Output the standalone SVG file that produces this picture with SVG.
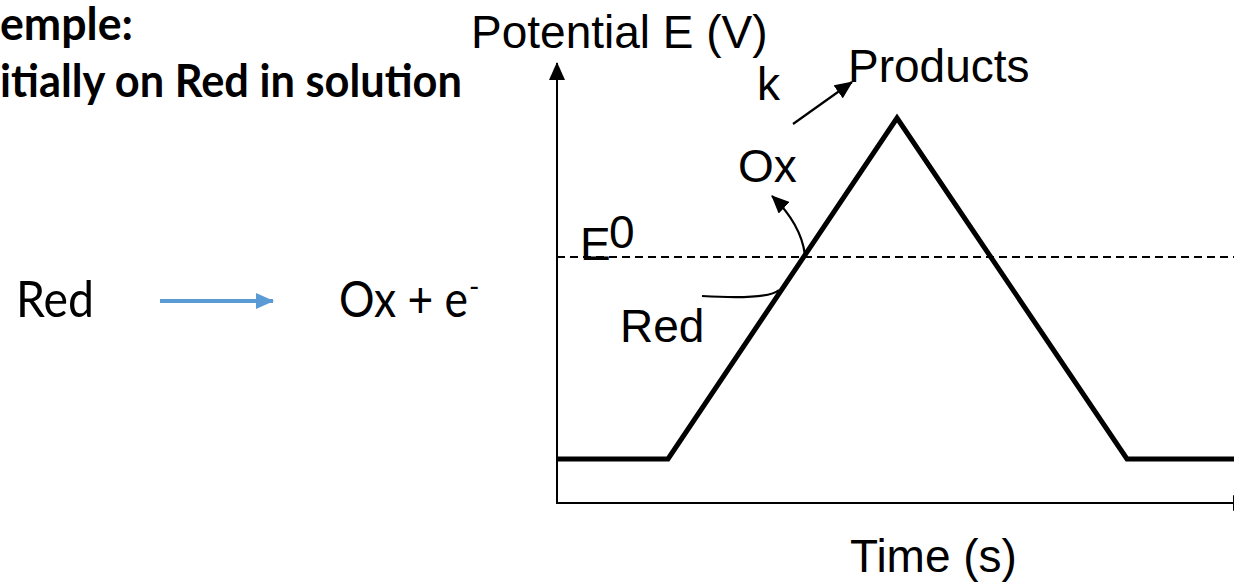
<svg xmlns="http://www.w3.org/2000/svg" width="1234" height="585" viewBox="0 0 1234 585">
<style>
.t{font-family:"Liberation Sans",Arial,sans-serif;font-size:46px;fill:#000}
.c{font-family:Lato,"Open Sans",sans-serif;fill:#000}
.b{font-weight:bold;font-size:46px}
.ax{stroke:#000;stroke-width:2;fill:none}
.ar{stroke:#000;stroke-width:2.2;fill:none}
</style>
<defs>
<marker id="ahb" markerWidth="18" markerHeight="16" refX="17" refY="8" orient="auto" markerUnits="userSpaceOnUse" viewBox="0 0 18 16">
<path d="M0,0 L18,8 L0,16 Z" fill="#000"/>
</marker>
<marker id="blue" markerWidth="18" markerHeight="16" refX="17" refY="8" orient="auto" markerUnits="userSpaceOnUse" viewBox="0 0 18 16">
<path d="M0,0 L18,8 L0,16 Z" fill="#5b9bd5"/>
</marker>
</defs>
<rect width="1234" height="585" fill="#fff"/>
<g id="title">
<text class="c b" x="0" y="40" textLength="133" lengthAdjust="spacingAndGlyphs">emple:</text>
<text class="c b" x="0" y="97" textLength="462" lengthAdjust="spacingAndGlyphs">itially on Red in solution</text>
</g>
<g id="reaction">
<text class="c" x="16" y="317" font-size="50" textLength="78" lengthAdjust="spacingAndGlyphs">Red</text>
<text class="c" x="339" y="317" font-size="50"><tspan textLength="129" lengthAdjust="spacingAndGlyphs">Ox + e</tspan><tspan dx="1" dy="-20" font-size="28">-</tspan></text>
</g>
<g id="connectors">
<line x1="160" y1="301" x2="273" y2="301" stroke="#5b9bd5" stroke-width="4" marker-end="url(#blue)"/>
<line class="ax" x1="557" y1="503" x2="557" y2="63" marker-end="url(#ahb)"/>
<line class="ax" x1="556" y1="503" x2="1250" y2="503" marker-end="url(#ahb)"/>
<line class="ar" x1="793" y1="124" x2="852" y2="82" marker-end="url(#ahb)"/>
<path class="ar" d="M805,255 Q801,224 772,196" marker-end="url(#ahb)"/>
<path class="ar" d="M702,296 Q768,300 779,290"/>
</g>
<g id="chart">
<line x1="557" y1="257" x2="1234" y2="257" stroke="#000" stroke-width="2" stroke-dasharray="8 5"/>
<polyline points="557,459 668,459 897,118 1127,459 1240,459" fill="none" stroke="#000" stroke-width="5" stroke-linejoin="miter"/>
</g>
<g id="labels">
<text class="t" x="471" y="48" font-size="48">Potential E (V)</text>
<text class="t" x="757" y="100">k</text>
<text class="t" x="848" y="82">Products</text>
<text class="t" x="738" y="182">Ox</text>
<text class="t" x="580" y="260">E</text>
<text class="t" x="609" y="248" font-size="22">0</text>
<text class="t" x="620" y="342">Red</text>
<text class="t" x="850" y="572">Time (s)</text>
</g>
</svg>
